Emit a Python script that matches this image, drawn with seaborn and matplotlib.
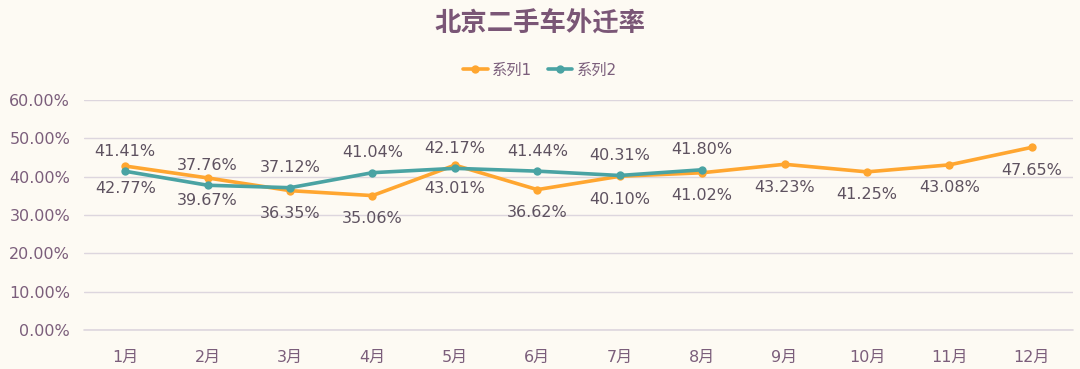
import pandas as pd
import matplotlib.pyplot as plt
import seaborn as sns

# data
months = ['1月', '2月', '3月', '4月', '5月', '6月', '7月', '8月', '9月', '10月', '11月', '12月']
series1 = [42.77, 39.67, 36.35, 35.06, 43.01, 36.62, 40.10, 41.02, 43.23, 41.25, 43.08, 47.65]
series2 = [41.41, 37.76, 37.12, 41.04, 42.17, 41.44, 40.31, 41.80]

bg = '#FDFAF3'
txt = '#7B5E7B'
lbl = '#5E5260'
colors = {'系列1': '#FFA630', '系列2': '#4AA3A3'}

sns.set_theme(style='white')
plt.rcParams['font.family'] = ['DejaVu Sans', 'Noto Sans CJK SC']

df = pd.concat([
    pd.DataFrame({'月份': months, '值': [v / 100 for v in series1], '系列': '系列1'}),
    pd.DataFrame({'月份': months[:len(series2)], '值': [v / 100 for v in series2], '系列': '系列2'}),
])

fig = plt.figure(figsize=(10.8, 3.69), dpi=100, facecolor=bg)
ax = fig.add_axes([0.0778, 0.1057, 0.9157, 0.6233])
ax.set_facecolor(bg)

sns.lineplot(data=df, x='月份', y='值', hue='系列', palette=colors, sort=False,
             marker='o', markersize=6, markeredgewidth=0, linewidth=2.6, ax=ax)

# data labels: series 2 above, series 1 below
for i, v in enumerate(series1):
    ax.annotate(f'{v:.2f}%', (i, v / 100), xytext=(0, -16.5), textcoords='offset points',
                ha='center', va='center', fontsize=11.5, color=lbl)
for i, v in enumerate(series2):
    ax.annotate(f'{v:.2f}%', (i, v / 100), xytext=(0, 14.5), textcoords='offset points',
                ha='center', va='center', fontsize=11.5, color=lbl)

ax.set_ylim(0, 0.6)
ax.set_xlim(-0.5, 11.5)
ax.set_yticks([0, 0.1, 0.2, 0.3, 0.4, 0.5, 0.6])
ax.set_yticklabels([f'{t:.2f}%' for t in [0, 10, 20, 30, 40, 50, 60]])
ax.tick_params(axis='both', length=0, labelsize=11.5, colors=txt)
ax.tick_params(axis='y', pad=10)
ax.tick_params(axis='x', pad=14)
ax.yaxis.grid(True, color='#DDD6DE', linewidth=1)
ax.axhline(0, color='#DDD6DE', linewidth=1.2, clip_on=False, zorder=0)
ax.set_axisbelow(True)
for s in ax.spines.values():
    s.set_visible(False)
ax.set_xlabel('')
ax.set_ylabel('')

handles, labels = ax.get_legend_handles_labels()
ax.legend(handles, labels, loc='center', bbox_to_anchor=(0.5, 0.81), bbox_transform=fig.transFigure,
          ncol=2, frameon=False, fontsize=11, labelcolor=txt, handlelength=1.6,
          handletextpad=0.3, columnspacing=1.0)

fig.text(0.5, 0.935, '北京二手车外迁率', ha='center', va='center', fontsize=19,
         fontweight='bold', color='#7A5676', family=['Noto Sans CJK SC', 'DejaVu Sans'])

fig.savefig('out.png', dpi=100, facecolor=bg)
